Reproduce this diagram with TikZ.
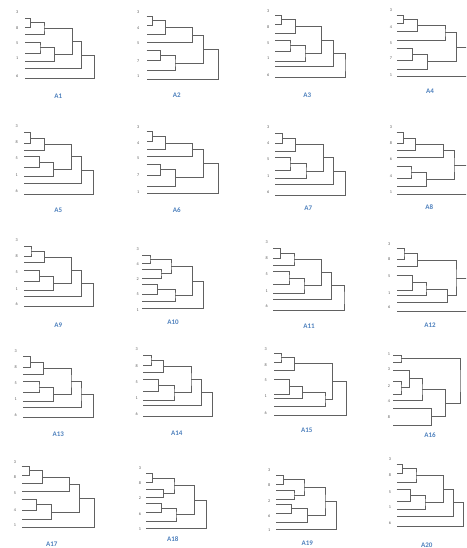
\documentclass[tikz,border=0pt]{standalone}
\usepackage{fontspec}
\setmainfont{Carlito}
\usetikzlibrary{calc}
\definecolor{ttlblue}{RGB}{79,129,189}
% one link of a dendrogram: name, two children, x of the link
\newcommand{\mrg}[4]{%
  \path let \p1=($(#2)!0.5!(#3)$) in (#4pt,\y1) coordinate (#1);%
  \draw[lnk] (#2) -| (#1) |- (#3);}

\begin{document}
\begin{tikzpicture}[x=1pt, y=-1pt,
  lbl/.style={inner sep=0pt, font=\fontsize{4.2}{5}\selectfont, text=black!65},
  ttl/.style={inner sep=0pt, font=\fontsize{7}{8}\selectfont\bfseries, text=ttlblue},
  lnk/.style={draw=black!62, line width=0.85pt}]

\useasboundingbox (0,0) rectangle (466,548);
\clip (0,0) rectangle (466,548);

% ===== A1 =====
\path (25,18.3) coordinate (a1l1) (25,27.3) coordinate (a1l2) (25,34.3) coordinate (a1l3) (25,42.3) coordinate (a1l4)
      (25,53.3) coordinate (a1l5) (25,61.7) coordinate (a1l6) (25,68.3) coordinate (a1l7) (25,78.3) coordinate (a1l8);
\mrg{a1m1}{a1l1}{a1l2}{30.7}
\mrg{a1m2}{a1m1}{a1l3}{44}
\mrg{a1m3}{a1l4}{a1l5}{40}
\mrg{a1m4}{a1m3}{a1l6}{54.3}
\mrg{a1m5}{a1m2}{a1m4}{72.7}
\mrg{a1m6}{a1m5}{a1l7}{81.7}
\mrg{a1m7}{a1m6}{a1l8}{94.3}
\node[lbl] (a1n3) at (17.3,12)   {3};
\node[lbl] (a1n8) at (17.3,28)   {8};
\node[lbl] (a1n5) at (17.3,42.7) {5};
\node[lbl] (a1n1) at (17.3,58.3) {1};
\node[lbl] (a1n6) at (17.3,76)   {6};
\node[ttl] (a1) at (58.3,96.7) {A1};

% ===== A2 =====
\path (146.7,16.7) coordinate (a2l1) (146.7,25) coordinate (a2l2) (146.7,34.3) coordinate (a2l3) (146.7,42.7) coordinate (a2l4)
      (146.7,50) coordinate (a2l5) (146.7,60.7) coordinate (a2l6) (146.7,70.7) coordinate (a2l7) (146.7,79) coordinate (a2l8);
\mrg{a2m1}{a2l1}{a2l2}{152.7}
\mrg{a2m2}{a2m1}{a2l3}{165.7}
\mrg{a2m3}{a2m2}{a2l4}{192.7}
\mrg{a2m4}{a2l5}{a2l6}{160.7}
\mrg{a2m5}{a2m4}{a2l7}{175}
\mrg{a2m6}{a2m3}{a2m5}{203.3}
\mrg{a2m7}{a2m6}{a2l8}{218.3}
\node[lbl] (a2n3) at (138.3,12.3) {3};
\node[lbl] (a2n4) at (138.3,28.3) {4};
\node[lbl] (a2n5) at (138.3,43.3) {5};
\node[lbl] (a2n7) at (138.3,60.7) {7};
\node[lbl] (a2n1) at (138.3,76)   {1};
\node[ttl] (a2) at (176.7,95) {A2};

% ===== A3 =====
\path (275,15.7) coordinate (a3l1) (275,24) coordinate (a3l2) (275,33.3) coordinate (a3l3) (275,40) coordinate (a3l4)
      (275,51.7) coordinate (a3l5) (275,61) coordinate (a3l6) (275,66.7) coordinate (a3l7) (275,77.3) coordinate (a3l8);
\mrg{a3m1}{a3l1}{a3l2}{281.7}
\mrg{a3m2}{a3m1}{a3l3}{295.7}
\mrg{a3m3}{a3l4}{a3l5}{290}
\mrg{a3m4}{a3m3}{a3l6}{305}
\mrg{a3m5}{a3m2}{a3m4}{321.7}
\mrg{a3m6}{a3m5}{a3l7}{333.3}
\mrg{a3m7}{a3m6}{a3l8}{345}
\node[lbl] (a3n3) at (268.3,10.7) {3};
\node[lbl] (a3n8) at (268.3,26.7) {8};
\node[lbl] (a3n5) at (268.3,42.7) {5};
\node[lbl] (a3n1) at (268.3,58.3) {1};
\node[lbl] (a3n6) at (268.3,75)   {6};
\node[ttl] (a3) at (307.3,95.7) {A3};

% ===== A4 =====
\path (396.7,15) coordinate (a4l1) (396.7,23.3) coordinate (a4l2) (396.7,31.7) coordinate (a4l3) (396.7,40) coordinate (a4l4)
      (396.7,48.3) coordinate (a4l5) (396.7,60) coordinate (a4l6) (396.7,69) coordinate (a4l7) (396.7,76) coordinate (a4l8);
\mrg{a4m1}{a4l1}{a4l2}{403.3}
\mrg{a4m2}{a4m1}{a4l3}{417.7}
\mrg{a4m3}{a4m2}{a4l4}{445}
\mrg{a4m4}{a4l5}{a4l6}{412.7}
\mrg{a4m5}{a4m4}{a4l7}{427.3}
\mrg{a4m6}{a4m3}{a4m5}{456.7}
\mrg{a4m7}{a4m6}{a4l8}{475}
\node[lbl] (a4n3) at (391,10)   {3};
\node[lbl] (a4n4) at (391,26.7) {4};
\node[lbl] (a4n5) at (391,42.7) {5};
\node[lbl] (a4n7) at (391,58.3) {7};
\node[lbl] (a4n1) at (391,75)   {1};
\node[ttl] (a4) at (430,91.7) {A4};

% ===== A5 =====
\path (24,132.7) coordinate (a5l1) (24,143.3) coordinate (a5l2) (24,150) coordinate (a5l3) (24,156.7) coordinate (a5l4)
      (24,167.3) coordinate (a5l5) (24,176.7) coordinate (a5l6) (24,183.3) coordinate (a5l7) (24,194.3) coordinate (a5l8);
\mrg{a5m1}{a5l1}{a5l2}{30.7}
\mrg{a5m2}{a5m1}{a5l3}{44.3}
\mrg{a5m3}{a5l4}{a5l5}{39.3}
\mrg{a5m4}{a5m3}{a5l6}{53.3}
\mrg{a5m5}{a5m2}{a5m4}{71.7}
\mrg{a5m6}{a5m5}{a5l7}{81.7}
\mrg{a5m7}{a5m6}{a5l8}{93.3}
\node[lbl] (a5n3) at (16.7,126)   {3};
\node[lbl] (a5n8) at (16.7,142.3) {8};
\node[lbl] (a5n5) at (16.7,158.3) {5};
\node[lbl] (a5n1) at (16.7,175)   {1};
\node[lbl] (a5n6) at (16.7,190.7) {6};
\node[ttl] (a5) at (58.3,210) {A5};

% ===== A6 =====
\path (146.7,131.7) coordinate (a6l1) (146.7,141.7) coordinate (a6l2) (146.7,149.3) coordinate (a6l3) (146.7,156.7) coordinate (a6l4)
      (146.7,164.3) coordinate (a6l5) (146.7,175) coordinate (a6l6) (146.7,186) coordinate (a6l7) (146.7,193.3) coordinate (a6l8);
\mrg{a6m1}{a6l1}{a6l2}{152.7}
\mrg{a6m2}{a6m1}{a6l3}{165.7}
\mrg{a6m3}{a6m2}{a6l4}{192.7}
\mrg{a6m4}{a6l5}{a6l6}{160.7}
\mrg{a6m5}{a6m4}{a6l7}{175.7}
\mrg{a6m6}{a6m3}{a6m5}{203.3}
\mrg{a6m7}{a6m6}{a6l8}{218.3}
\node[lbl] (a6n3) at (138.3,126.7) {3};
\node[lbl] (a6n4) at (138.3,142.7) {4};
\node[lbl] (a6n5) at (138.3,158.3) {5};
\node[lbl] (a6n7) at (138.3,175)   {7};
\node[lbl] (a6n1) at (138.3,191.7) {1};
\node[ttl] (a6) at (176.7,210) {A6};

% ===== A7 =====
\path (275,133.3) coordinate (a7l1) (275,143.3) coordinate (a7l2) (275,151) coordinate (a7l3) (275,157.7) coordinate (a7l4)
      (275,170) coordinate (a7l5) (275,178.3) coordinate (a7l6) (275,184) coordinate (a7l7) (275,195) coordinate (a7l8);
\mrg{a7m1}{a7l1}{a7l2}{282.3}
\mrg{a7m2}{a7m1}{a7l3}{295.7}
\mrg{a7m3}{a7l4}{a7l5}{290}
\mrg{a7m4}{a7m3}{a7l6}{306}
\mrg{a7m5}{a7m2}{a7m4}{323.3}
\mrg{a7m6}{a7m5}{a7l7}{333.3}
\mrg{a7m7}{a7m6}{a7l8}{345.7}
\node[lbl] (a7n3) at (268.3,126.7) {3};
\node[lbl] (a7n4) at (268.3,143.3) {4};
\node[lbl] (a7n5) at (268.3,159.3) {5};
\node[lbl] (a7n1) at (268.3,176)   {1};
\node[lbl] (a7n6) at (268.3,191.7) {6};
\node[ttl] (a7) at (308.3,208.3) {A7};

% ===== A8 =====
\path (396.7,132.7) coordinate (a8l1) (396.7,143.3) coordinate (a8l2) (396.7,150) coordinate (a8l3) (396.7,157.7) coordinate (a8l4)
      (396.7,166) coordinate (a8l5) (396.7,178.3) coordinate (a8l6) (396.7,186) coordinate (a8l7) (396.7,194.3) coordinate (a8l8);
\mrg{a8m1}{a8l1}{a8l2}{403.3}
\mrg{a8m2}{a8m1}{a8l3}{415.7}
\mrg{a8m3}{a8m2}{a8l4}{443.3}
\mrg{a8m4}{a8l5}{a8l6}{411}
\mrg{a8m5}{a8m4}{a8l7}{426.7}
\mrg{a8m6}{a8m3}{a8m5}{454}
\mrg{a8m7}{a8m6}{a8l8}{475}
\node[lbl] (a8n3) at (391,126.7) {3};
\node[lbl] (a8n8) at (391,143.3) {8};
\node[lbl] (a8n6) at (391,159.3) {6};
\node[lbl] (a8n4) at (391,176)   {4};
\node[lbl] (a8n1) at (391,191.7) {1};
\node[ttl] (a8) at (429.3,206.7) {A8};

% ===== A9 =====
\path (24,246.7) coordinate (a9l1) (24,256.7) coordinate (a9l2) (24,262.7) coordinate (a9l3) (24,270.7) coordinate (a9l4)
      (24,281.7) coordinate (a9l5) (24,290.7) coordinate (a9l6) (24,296.7) coordinate (a9l7) (24,306.7) coordinate (a9l8);
\mrg{a9m1}{a9l1}{a9l2}{31}
\mrg{a9m2}{a9m1}{a9l3}{44.3}
\mrg{a9m3}{a9l4}{a9l5}{39.3}
\mrg{a9m4}{a9m3}{a9l6}{53.3}
\mrg{a9m5}{a9m2}{a9m4}{71.7}
\mrg{a9m6}{a9m5}{a9l7}{81.7}
\mrg{a9m7}{a9m6}{a9l8}{93.3}
\node[lbl] (a9n3) at (16.7,240)   {3};
\node[lbl] (a9n8) at (16.7,256)   {8};
\node[lbl] (a9n5) at (16.7,272.3) {5};
\node[lbl] (a9n1) at (16.7,289)   {1};
\node[lbl] (a9n6) at (16.7,304.3) {6};
\node[ttl] (a9) at (58.3,325) {A9};

% ===== A10 =====
\path (142.3,255) coordinate (a10l1) (142.3,263.3) coordinate (a10l2) (142.3,269) coordinate (a10l3) (142.3,278.3) coordinate (a10l4)
      (142.3,284.3) coordinate (a10l5) (142.3,294.3) coordinate (a10l6) (142.3,301.7) coordinate (a10l7) (142.3,308.3) coordinate (a10l8);
\mrg{a10m1}{a10l1}{a10l2}{150}
\mrg{a10m2}{a10l3}{a10l4}{161}
\mrg{a10m3}{a10m1}{a10m2}{171}
\mrg{a10m4}{a10l5}{a10l6}{157.7}
\mrg{a10m5}{a10m4}{a10l7}{175}
\mrg{a10m6}{a10m3}{a10m5}{192.3}
\mrg{a10m7}{a10m6}{a10l8}{203.3}
\node[lbl] (a10n3) at (137.7,249)   {3};
\node[lbl] (a10n4) at (137.7,264.3) {4};
\node[lbl] (a10n2) at (137.7,279)   {2};
\node[lbl] (a10n5) at (137.7,294.3) {5};
\node[lbl] (a10n1) at (137.7,310)   {1};
\node[ttl] (a10) at (173,322) {A10};

% ===== A11 =====
\path (273.3,248.3) coordinate (a11l1) (273.3,258.3) coordinate (a11l2) (273.3,265) coordinate (a11l3) (273.3,271.7) coordinate (a11l4)
      (273.3,284.3) coordinate (a11l5) (273.3,293.3) coordinate (a11l6) (273.3,299) coordinate (a11l7) (273.3,310) coordinate (a11l8);
\mrg{a11m1}{a11l1}{a11l2}{280.7}
\mrg{a11m2}{a11m1}{a11l3}{294}
\mrg{a11m3}{a11l4}{a11l5}{289}
\mrg{a11m4}{a11m3}{a11l6}{304}
\mrg{a11m5}{a11m2}{a11m4}{321.7}
\mrg{a11m6}{a11m5}{a11l7}{331.7}
\mrg{a11m7}{a11m6}{a11l8}{344}
\node[lbl] (a11n3) at (266.7,241.7) {3};
\node[lbl] (a11n8) at (266.7,258.3) {8};
\node[lbl] (a11n5) at (266.7,274)   {5};
\node[lbl] (a11n1) at (266.7,290.7) {1};
\node[lbl] (a11n6) at (266.7,306)   {6};
\node[ttl] (a11) at (309,326.7) {A11};

% ===== A12 =====
\path (396.7,248.3) coordinate (a12l1) (396.7,259) coordinate (a12l2) (396.7,266.7) coordinate (a12l3) (396.7,275.7) coordinate (a12l4)
      (396.7,290) coordinate (a12l5) (396.7,295) coordinate (a12l6) (396.7,302.7) coordinate (a12l7) (396.7,311) coordinate (a12l8);
\mrg{a12m1}{a12l1}{a12l2}{404}
\mrg{a12m2}{a12m1}{a12l3}{417.7}
\mrg{a12m3}{a12l4}{a12l5}{412.7}
\mrg{a12m4}{a12m3}{a12l6}{426}
\mrg{a12m5}{a12m4}{a12l7}{447.3}
\mrg{a12m6}{a12m2}{a12m5}{456}
\mrg{a12m7}{a12m6}{a12l8}{475}
\node[lbl] (a12n3) at (389.3,244.3) {3};
\node[lbl] (a12n8) at (389.3,259.3) {8};
\node[lbl] (a12n5) at (389.3,276)   {5};
\node[lbl] (a12n1) at (389.3,292.7) {1};
\node[lbl] (a12n6) at (389.3,306.7) {6};
\node[ttl] (a12) at (430,325) {A12};

% ===== A13 =====
\path (23.3,356.7) coordinate (a13l1) (23.3,367.3) coordinate (a13l2) (23.3,374) coordinate (a13l3) (23.3,381.7) coordinate (a13l4)
      (23.3,392.7) coordinate (a13l5) (23.3,401) coordinate (a13l6) (23.3,407.7) coordinate (a13l7) (23.3,417.7) coordinate (a13l8);
\mrg{a13m1}{a13l1}{a13l2}{30.7}
\mrg{a13m2}{a13m1}{a13l3}{43.3}
\mrg{a13m3}{a13l4}{a13l5}{39}
\mrg{a13m4}{a13m3}{a13l6}{53.3}
\mrg{a13m5}{a13m2}{a13m4}{71}
\mrg{a13m6}{a13m5}{a13l7}{81}
\mrg{a13m7}{a13m6}{a13l8}{93.3}
\node[lbl] (a13n3) at (15.7,351)   {3};
\node[lbl] (a13n8) at (15.7,367.3) {8};
\node[lbl] (a13n5) at (15.7,382.7) {5};
\node[lbl] (a13n1) at (15.7,399.3) {1};
\node[lbl] (a13n6) at (15.7,415)   {6};
\node[ttl] (a13) at (58.3,434.3) {A13};

% ===== A14 =====
\path (143.3,355) coordinate (a14l1) (143.3,365) coordinate (a14l2) (143.3,372.7) coordinate (a14l3) (143.3,379.3) coordinate (a14l4)
      (143.3,391) coordinate (a14l5) (143.3,400) coordinate (a14l6) (143.3,405.7) coordinate (a14l7) (143.3,416) coordinate (a14l8);
\mrg{a14m1}{a14l1}{a14l2}{151}
\mrg{a14m2}{a14m1}{a14l3}{163.3}
\mrg{a14m3}{a14l4}{a14l5}{158.3}
\mrg{a14m4}{a14m3}{a14l6}{174}
\mrg{a14m5}{a14m2}{a14m4}{191}
\mrg{a14m6}{a14m5}{a14l7}{201.7}
\mrg{a14m7}{a14m6}{a14l8}{212.7}
\node[lbl] (a14n3) at (136.7,349)   {3};
\node[lbl] (a14n8) at (136.7,365.7) {8};
\node[lbl] (a14n5) at (136.7,381.7) {5};
\node[lbl] (a14n1) at (136.7,397.7) {1};
\node[lbl] (a14n6) at (136.7,414)   {6};
\node[ttl] (a14) at (176.7,433.3) {A14};

% ===== A15 =====
\path (274.3,353.3) coordinate (a15l1) (274.3,362.3) coordinate (a15l2) (274.3,370) coordinate (a15l3) (274.3,379) coordinate (a15l4)
      (274.3,394.3) coordinate (a15l5) (274.3,398.3) coordinate (a15l6) (274.3,406) coordinate (a15l7) (274.3,415) coordinate (a15l8);
\mrg{a15m1}{a15l1}{a15l2}{281}
\mrg{a15m2}{a15m1}{a15l3}{294.3}
\mrg{a15m3}{a15l4}{a15l5}{289.3}
\mrg{a15m4}{a15m3}{a15l6}{302.7}
\mrg{a15m5}{a15m4}{a15l7}{325}
\mrg{a15m6}{a15m2}{a15m5}{332.3}
\mrg{a15m7}{a15m6}{a15l8}{346.7}
\node[lbl] (a15n3) at (265.7,349)   {3};
\node[lbl] (a15n8) at (265.7,365)   {8};
\node[lbl] (a15n5) at (265.7,380)   {5};
\node[lbl] (a15n1) at (265.7,396)   {1};
\node[lbl] (a15n6) at (265.7,413.3) {6};
\node[ttl] (a15) at (306.7,430.7) {A15};

% ===== A16 =====
\path (393.3,355) coordinate (a16l1) (393.3,362.3) coordinate (a16l2) (393.3,370) coordinate (a16l3) (393.3,381) coordinate (a16l4)
      (393.3,394.3) coordinate (a16l5) (393.3,400) coordinate (a16l6) (393.3,408.3) coordinate (a16l7) (393.3,425) coordinate (a16l8);
\mrg{a16m1}{a16l1}{a16l2}{401}
\mrg{a16m2}{a16l4}{a16l5}{401}
\mrg{a16m3}{a16l3}{a16m2}{409.3}
\mrg{a16m4}{a16m3}{a16l6}{422}
\mrg{a16m5}{a16l7}{a16l8}{431.7}
\mrg{a16m6}{a16m4}{a16m5}{445.3}
\mrg{a16m7}{a16m1}{a16m6}{460}
\node[lbl] (a16n1) at (389,354.3) {1};
\node[lbl] (a16n3) at (389,369)   {3};
\node[lbl] (a16n2) at (389,385.7) {2};
\node[lbl] (a16n4) at (389,401)   {4};
\node[lbl] (a16n8) at (389,416.7) {8};
\node[ttl] (a16) at (430,435) {A16};

% ===== A17 =====
\path (21.7,466) coordinate (a17l1) (21.7,475.7) coordinate (a17l2) (21.7,483.3) coordinate (a17l3) (21.7,491) coordinate (a17l4)
      (21.7,499) coordinate (a17l5) (21.7,510.7) coordinate (a17l6) (21.7,519.3) coordinate (a17l7) (21.7,527.3) coordinate (a17l8);
\mrg{a17m1}{a17l1}{a17l2}{29.3}
\mrg{a17m2}{a17m1}{a17l3}{42.3}
\mrg{a17m3}{a17m2}{a17l4}{69.3}
\mrg{a17m4}{a17l5}{a17l6}{36.7}
\mrg{a17m5}{a17m4}{a17l7}{51.7}
\mrg{a17m6}{a17m3}{a17m5}{79.3}
\mrg{a17m7}{a17m6}{a17l8}{94.3}
\node[lbl] (a17n3) at (15,461.7) {3};
\node[lbl] (a17n8) at (15,477.3) {8};
\node[lbl] (a17n5) at (15,493.3) {5};
\node[lbl] (a17n4) at (15,510)   {4};
\node[lbl] (a17n1) at (15,525)   {1};
\node[ttl] (a17) at (51.7,544) {A17};

% ===== A18 =====
\path (146,473.3) coordinate (a18l1) (146,482.7) coordinate (a18l2) (146,489.3) coordinate (a18l3) (146,497.7) coordinate (a18l4)
      (146,503.3) coordinate (a18l5) (146,512.7) coordinate (a18l6) (146,521) coordinate (a18l7) (146,528.3) coordinate (a18l8);
\mrg{a18m1}{a18l1}{a18l2}{152.7}
\mrg{a18m2}{a18l3}{a18l4}{163.3}
\mrg{a18m3}{a18m1}{a18m2}{174}
\mrg{a18m4}{a18l5}{a18l6}{161.7}
\mrg{a18m5}{a18m4}{a18l7}{176}
\mrg{a18m6}{a18m3}{a18m5}{194.3}
\mrg{a18m7}{a18m6}{a18l8}{206.7}
\node[lbl] (a18n3) at (140,468.3) {3};
\node[lbl] (a18n8) at (140,483.3) {8};
\node[lbl] (a18n2) at (140,498.3) {2};
\node[lbl] (a18n6) at (140,514)   {6};
\node[lbl] (a18n1) at (140,529.3) {1};
\node[ttl] (a18) at (172.7,539) {A18};

% ===== A19 =====
\path (276,475) coordinate (a19l1) (276,484) coordinate (a19l2) (276,490.7) coordinate (a19l3) (276,499.3) coordinate (a19l4)
      (276,504.3) coordinate (a19l5) (276,513.3) coordinate (a19l6) (276,522.7) coordinate (a19l7) (276,529.3) coordinate (a19l8);
\mrg{a19m1}{a19l1}{a19l2}{283.3}
\mrg{a19m2}{a19l3}{a19l4}{294}
\mrg{a19m3}{a19m1}{a19m2}{304}
\mrg{a19m4}{a19l5}{a19l6}{291.7}
\mrg{a19m5}{a19m4}{a19l7}{307.3}
\mrg{a19m6}{a19m3}{a19m5}{325}
\mrg{a19m7}{a19m6}{a19l8}{336.7}
\node[lbl] (a19n3) at (269.3,470) {3};
\node[lbl] (a19n8) at (269.3,485) {8};
\node[lbl] (a19n2) at (269.3,501) {2};
\node[lbl] (a19n6) at (269.3,516) {6};
\node[lbl] (a19n1) at (269.3,530) {1};
\node[ttl] (a19) at (307.3,543.3) {A19};

% ===== A20 =====
\path (396.7,464) coordinate (a20l1) (396.7,473.3) coordinate (a20l2) (396.7,482.7) coordinate (a20l3) (396.7,489.3) coordinate (a20l4)
      (396.7,501.7) coordinate (a20l5) (396.7,509.3) coordinate (a20l6) (396.7,516) coordinate (a20l7) (396.7,526.7) coordinate (a20l8);
\mrg{a20m1}{a20l1}{a20l2}{402.7}
\mrg{a20m2}{a20m1}{a20l3}{416}
\mrg{a20m3}{a20l4}{a20l5}{410.7}
\mrg{a20m4}{a20m3}{a20l6}{425}
\mrg{a20m5}{a20m2}{a20m4}{443.3}
\mrg{a20m6}{a20m5}{a20l7}{453.3}
\mrg{a20m7}{a20m6}{a20l8}{463.3}
\node[lbl] (a20n3) at (390,459.3) {3};
\node[lbl] (a20n8) at (390,475)   {8};
\node[lbl] (a20n5) at (390,491.7) {5};
\node[lbl] (a20n1) at (390,506.7) {1};
\node[lbl] (a20n6) at (390,523.3) {6};
\node[ttl] (a20) at (426.7,545) {A20};

\end{tikzpicture}
\end{document}
